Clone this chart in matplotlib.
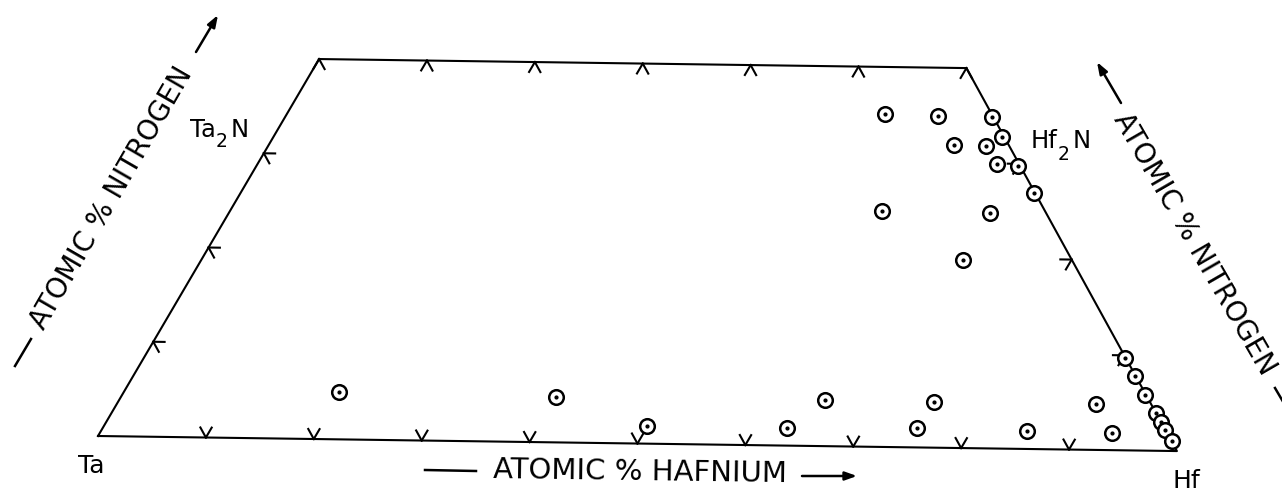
import numpy as np
import matplotlib.pyplot as plt
from matplotlib.transforms import Affine2D

# Ta-Hf-N section, compositions in atomic %
hf_pct = [55.0, 60.0, 65.0, 67.0, 63.0, 66.0, 68.0, 70.0, 73.0, 60.0, 70.0, 70.0,
          90.2, 92.1, 94.0, 96.0, 97.0, 97.8, 99.0, 90.0, 93.1,
          19.8, 40.0, 49.9, 62.9, 64.9, 74.9, 75.0, 85.1]
n_pct = [35.0, 34.9, 34.9, 32.8, 31.9, 31.8, 29.9, 29.8, 26.9, 24.8, 24.8, 19.8,
         9.7, 7.8, 5.9, 4.0, 3.0, 2.2, 1.0, 4.8, 1.8,
         5.0, 4.8, 1.9, 1.9, 4.9, 2.0, 4.8, 1.9]

n_max = 40
hf_ticks = [10, 20, 30, 40, 50, 60, 70, 80, 90]
n_ticks = [10, 20, 30]
top_ticks = [0, 10, 20, 30, 40, 50, 60]

plt.rcParams['font.family'] = ['DejaVu Sans']

W, H = 1282, 492
fig = plt.figure(figsize=(W / 100, H / 100), dpi=100)
ax = fig.add_axes([0, 0, 1, 1])
ax.set_xlim(-9.083, 109.73)
ax.set_ylim(-5.105, 39.745)
ax.axis('off')


def to_xy(hf, n):
    hf = np.asarray(hf, dtype=float)
    n = np.asarray(n, dtype=float)
    return hf + n / 2, n * np.sqrt(3) / 2


def fp(x, y):
    # pixel position (origin top-left) -> figure fraction
    return x / W, 1 - y / H


# the sheet is slightly skewed, tilt the whole diagram about the Ta corner
ta_disp = ax.transData.transform((0, 0))
tr = ax.transData + Affine2D().rotate_deg_around(ta_disp[0], ta_disp[1], -0.8)

# outline: Ta -> Hf -> Hf-rich at 40 N -> Ta-rich at 40 N
oh = [0, 100, 100 - n_max, 0, 0]
on = [0, 0, n_max, n_max, 0]
x, y = to_xy(oh, on)
ax.plot(x, y, color='black', lw=1.5, transform=tr, zorder=2)

# grid ticks: short arms along the two other composition directions
d = 1.05
tick_segs = []
for h in hf_ticks:
    tick_segs.append(((h, 0), (h, d)))
    tick_segs.append(((h, 0), (h - d, d)))
for n in n_ticks:
    tick_segs.append(((0, n), (d, n)))
    tick_segs.append(((0, n), (d, n - d)))
    tick_segs.append(((100 - n, n), (100 - n - d, n)))
    tick_segs.append(((100 - n, n), (100 - n, n - d)))
for h in top_ticks:
    tick_segs.append(((h, n_max), (h, n_max - d)))
    tick_segs.append(((h, n_max), (h + d, n_max - d)))
for (h0, n0), (h1, n1) in tick_segs:
    x, y = to_xy([h0, h1], [n0, n1])
    ax.plot(x, y, color='black', lw=1.5, transform=tr, zorder=2)

# samples: open circle with a centre dot
px, py = to_xy(hf_pct, n_pct)
ax.plot(px, py, 'o', ms=10.5, mfc='white', mec='black', mew=1.8,
        transform=tr, zorder=3)
ax.plot(px, py, 'o', ms=2.0, color='black', transform=tr, zorder=4)

# corner labels
lab = dict(fontsize=18, color='black', ha='center', va='center')
fig.text(*fp(91, 466), 'Ta', **lab)
fig.text(*fp(1186, 481), 'Hf', **lab)

# phase labels with large lowered subscripts
base = dict(fontsize=17.5, color='black', ha='left', va='baseline')
sub = dict(fontsize=13.5, color='black', ha='left', va='baseline')
fig.text(*fp(190, 137), 'Ta', **base)
fig.text(*fp(216, 147), '2', **sub)
fig.text(*fp(231, 137), 'N', **base)
fig.text(*fp(1031, 148), 'Hf', **base)
fig.text(*fp(1058, 160), '2', **sub)
fig.text(*fp(1073, 148), 'N', **base)

# axis titles with their dashes and arrows
ttl = dict(color='black', ha='center', va='center', rotation_mode='anchor')
fig.text(*fp(640, 472), 'ATOMIC % HAFNIUM', rotation=-0.8, fontsize=21, **ttl)
fig.text(*fp(112, 198), 'ATOMIC % NITROGEN', rotation=60, fontsize=20, **ttl)
fig.text(*fp(1194, 244), 'ATOMIC % NITROGEN', rotation=-60, fontsize=20, **ttl)

line_kw = dict(color='black', lw=1.8)
arrow_kw = dict(arrowstyle='-|>,head_length=0.7,head_width=0.25',
                color='black', lw=1.8, shrinkA=0, shrinkB=0)
for a, b in [((425, 470), (476, 471)), ((15, 366), (31, 339)),
             ((1275, 388), (1285, 405))]:
    ax.plot(*zip(fp(*a), fp(*b)), transform=fig.transFigure, **line_kw)
for tail, head in [((802, 476), (857, 476)), ((196, 52), (218, 15)),
                   ((1121, 103), (1097, 62))]:
    ax.annotate('', xy=fp(*head), xytext=fp(*tail), xycoords='figure fraction',
                textcoords='figure fraction', arrowprops=arrow_kw)

fig.savefig('out.png', dpi=100, facecolor='white')
